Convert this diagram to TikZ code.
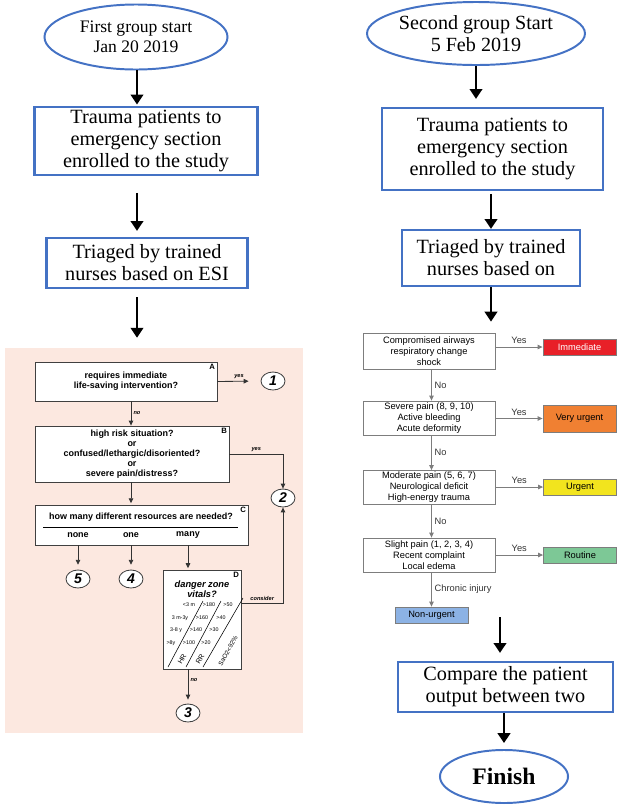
\documentclass[tikz,border=0pt]{standalone}
\usepackage{fontspec}
\setmainfont{Liberation Serif}
\setsansfont{Liberation Sans}
\usetikzlibrary{arrows.meta,shapes.geometric,positioning}
\definecolor{boxblue}{RGB}{68,114,196}
\definecolor{esipink}{RGB}{252,232,224}
\definecolor{immred}{RGB}{232,32,40}
\definecolor{vuorange}{RGB}{240,128,50}
\definecolor{urgyellow}{RGB}{242,228,30}
\definecolor{routgreen}{RGB}{125,200,150}
\definecolor{nonblue}{RGB}{140,178,228}
\definecolor{tabgray}{RGB}{125,125,125}

\begin{document}
\begin{tikzpicture}[x=0.025cm, y=-0.025cm,
  startell/.style={ellipse, draw=boxblue, line width=1.4pt, align=center, inner sep=0pt},
  mainbox/.style={draw=boxblue, line width=1.6pt, align=center, inner sep=0pt,
                  font=\fontsize{14.4}{15.6}\selectfont},
  flow/.style={line width=1.3pt, -{Triangle[length=7pt,width=9pt]}},
  esibox/.style={draw=black!75, fill=white, line width=0.6pt, align=center, inner sep=0pt,
                 font=\sffamily\bfseries\fontsize{6.4}{7}\selectfont},
  esinum/.style={ellipse, draw=black!75, fill=white, line width=0.6pt, minimum width=0.6cm,
                 minimum height=0.45cm, inner sep=0pt,
                 font=\sffamily\bfseries\itshape\fontsize{10}{10}\selectfont},
  esiarrow/.style={draw=black!80, line width=0.6pt, -{Triangle[length=3.5pt,width=3.2pt]}},
  esitag/.style={font=\sffamily\bfseries\itshape\fontsize{4}{4}\selectfont, inner sep=1.5pt},
  corner/.style={anchor=north east, font=\sffamily\bfseries\fontsize{5.5}{5.5}\selectfont, inner sep=1.5pt},
  vital/.style={font=\sffamily\fontsize{3.8}{4}\selectfont, inner sep=0pt},
  tribox/.style={draw=tabgray, fill=white, line width=0.6pt, minimum width=3.3cm,
                 minimum height=0.85cm, align=center, inner sep=0pt,
                 font=\sffamily\fontsize{6.6}{7.8}\selectfont},
  level/.style={draw=tabgray, line width=0.6pt, minimum width=1.825cm, minimum height=0.4cm,
                inner sep=0pt, font=\sffamily\fontsize{6.6}{7}\selectfont},
  triarrow/.style={draw=tabgray, line width=0.6pt, -{Triangle[length=3.5pt,width=3.2pt]}},
  trilabel/.style={font=\sffamily\fontsize{6.6}{7}\selectfont, text=black!80, inner sep=2pt}]

\useasboundingbox (0,0) rectangle (620,811);

% first group
\node[startell, minimum width=4.575cm, minimum height=1.625cm,
      font=\fontsize{12.5}{14}\selectfont] (start1) at (136,37) {First group start\\Jan 20 2019};
\node[mainbox, minimum width=5.575cm, minimum height=1.7cm] (enrol1) at (146,141)
     {Trauma patients to\\emergency section\\enrolled to the study};
\node[mainbox, minimum width=5.025cm, minimum height=1.25cm] (tri1) at (147,263)
     {Triaged by trained\\nurses based on ESI};
\coordinate (lcol) at (137,0);

% ESI algorithm
\node[fill=esipink, minimum width=7.45cm, minimum height=9.625cm, inner sep=0pt] (esi) at (154,540.5) {};
\draw[flow, shorten >=1pt] (start1.south -| lcol) -- (enrol1.north -| lcol);
\draw[flow, shorten <=0.42cm, shorten >=0.15cm] (enrol1.south -| lcol) -- (tri1.north -| lcol);
\draw[flow, shorten <=0.2cm, shorten >=0.25cm] (tri1.south -| lcol) -- (esi.north -| lcol);

\node[esibox, minimum width=4.55cm, minimum height=0.975cm] (qa) at (126,381.5)
     {requires immediate\\life-saving intervention?};
\node[corner] (qatag) at (qa.north east) {A};
\node[esinum] (n1) at (273,381) {1};
\node[esibox, minimum width=4.85cm, minimum height=1.4cm] (qb) at (132,454)
     {high risk situation?\\or\\confused/lethargic/disoriented?\\or\\severe pain/distress?};
\node[corner] (qbtag) at (qb.north east) {B};
\node[esinum] (n2) at (283,498) {2};
\node[esibox, minimum width=5.325cm, minimum height=1cm] (qc) at (141.5,525) {};
\node[corner] (qctag) at (qc.north east) {C};
\node[esibox, draw=none, fill=none] (qcq) at (141,517) {how many different resources are needed?};
\draw[line width=0.5pt] (43,527) -- (238,527);
\node[esibox, draw=none, fill=none] (none) at (78,535) {none};
\node[esibox, draw=none, fill=none] (one) at (131,535) {one};
\node[esibox, draw=none, fill=none] (many) at (188,535) {many};
\node[esinum] (n5) at (78,579) {5};
\node[esinum] (n4) at (131,579) {4};
\node[esibox, minimum width=1.95cm, minimum height=2.475cm] (qd) at (202,619.5) {};
\node[corner] (qdtag) at (qd.north east) {D};
\node[esibox, draw=none, fill=none, font=\sffamily\bfseries\itshape\fontsize{6.6}{7.4}\selectfont]
     (vitals) at (202,589) {danger zone\\vitals?};
\node[esinum] (n3) at (188,713) {3};

% vitals table
\draw[line width=0.4pt] (168,667) -- (203,601);
\draw[line width=0.4pt] (186,667) -- (221,601);
\draw[line width=0.4pt] (203,667) -- (243,598);
\foreach \yy/\age/\hr/\rr/\ax/\hx/\rx [count=\i] in
    {605/{<3 m}/{>180}/{>50}/189/209/228,
     618/{3 m-3y}/{>160}/{>40}/180/202/221,
     630/{3-8 y}/{>140}/{>30}/176/196/214,
     643/{>8y}/{>100}/{>20}/171/189/206}{
  \node[vital] (age\i) at (\ax,\yy) {\age};
  \node[vital] (hr\i) at (\hx,\yy) {\hr};
  \node[vital] (rr\i) at (\rx,\yy) {\rr};
}
\node[rotate=60, font=\sffamily\fontsize{5}{5}\selectfont, inner sep=0pt] (hrlab) at (182,659) {HR};
\node[rotate=60, font=\sffamily\fontsize{5}{5}\selectfont, inner sep=0pt] (rrlab) at (200,659) {RR};
\node[rotate=60, font=\sffamily\fontsize{4.5}{4.5}\selectfont, inner sep=0pt] (salab) at (228,651) {SaO2<92\%};

\coordinate (qcol) at (131,0);
\draw[esiarrow, shorten >=0.3cm] (qa.east) -- node[esitag, above] {yes} (n1.west);
\draw[esiarrow] (qa.south -| qcol) -- node[esitag, right] {no} (qb.north -| qcol);
\draw[esiarrow] (qb.east) -| node[esitag, above, pos=0.25] {yes} (n2.north);
\draw[esiarrow, shorten >=1pt] (qb.south -| qcol) -- (qc.north -| qcol);
\draw[esiarrow, shorten >=0.12cm] (qc.south -| n5) -- (n5.north);
\draw[esiarrow, shorten >=0.12cm] (qc.south -| n4) -- (n4.north);
\draw[esiarrow, shorten >=1pt] (qc.south -| n3) -- (qd.north -| n3);
\draw[esiarrow] ([yshift=0.41cm]qd.east) -| node[esitag, above, pos=0.25] {consider} (n2.south);
\draw[esiarrow, shorten >=0.1cm] (qd.south -| n3) -- node[esitag, right, pos=0.3] {no} (n3.north);

% second group
\node[startell, minimum width=5.075cm, minimum height=1.575cm,
      font=\fontsize{14.3}{15.6}\selectfont] (start2) at (476,33.5) {Second group Start\\5 Feb 2019};
\node[mainbox, minimum width=5.525cm, minimum height=2.05cm] (enrol2) at (492.5,149)
     {Trauma patients to\\emergency section\\enrolled to the study};
\node[mainbox, minimum width=4.45cm, minimum height=1.4cm] (tri2) at (491,258)
     {Triaged by trained\\nurses based on};
\draw[flow, shorten >=0.2cm] (start2.south) -- (start2.south |- enrol2.north);
\draw[flow, shorten <=0.07cm] (enrol2.south -| tri2.north) -- (tri2.north);

% triage table
\node[tribox, minimum height=0.9cm] (c1) at (429,351) {Compromised airways\\respiratory change\\shock};
\node[tribox] (c2) at (429,418) {Severe pain (8, 9, 10)\\Active bleeding\\Acute deformity};
\node[tribox] (c3) at (429,487.5) {Moderate pain (5, 6, 7)\\Neurological deficit\\High-energy trauma};
\node[tribox] (c4) at (429,555) {Slight pain (1, 2, 3, 4)\\Recent complaint\\Local edema};
\node[level, fill=immred, text=white] (imm) at (579.5,347) {Immediate};
\node[level, fill=vuorange, minimum height=0.675cm] (vurg) at (579.5,418.5) {Very urgent};
\node[level, fill=urgyellow] (urg) at (580,487) {Urgent};
\node[level, fill=routgreen] (rout) at (580,555) {Routine};
\node[level, fill=nonblue] (nonurg) at (431.5,615) {Non-urgent};
\draw[flow, shorten >=0.275cm] (tri2.south) -- (tri2.south |- c1.north);

\draw[triarrow] (c1.east |- imm) -- node[trilabel, above] {Yes} (imm.west);
\draw[triarrow] (c2.east |- vurg) -- node[trilabel, above] {Yes} (vurg.west);
\draw[triarrow] (c3.east |- urg) -- node[trilabel, above] {Yes} (urg.west);
\draw[triarrow] (c4.east |- rout) -- node[trilabel, above] {Yes} (rout.west);
\draw[triarrow] (c1.south -| nonurg) -- node[trilabel, right] {No} (c2.north -| nonurg);
\draw[triarrow] (c2.south -| nonurg) -- node[trilabel, right] {No} (c3.north -| nonurg);
\draw[triarrow] (c3.south -| nonurg) -- node[trilabel, right] {No} (c4.north -| nonurg);
\draw[triarrow] (c4.south -| nonurg) -- node[trilabel, right] {Chronic injury} (nonurg.north);

% comparison
\node[mainbox, minimum width=5.375cm, minimum height=1.25cm] (cmp) at (505.5,687)
     {Compare the patient\\output between two};
\node[startell, minimum width=3.2cm, minimum height=1.325cm,
      font=\bfseries\fontsize{16.8}{18}\selectfont] (fin) at (504,776.5) {Finish};
\coordinate (tabout) at (500,617);
\draw[flow, shorten >=0.2cm] (tabout) -- (tabout |- cmp.north);
\draw[flow, shorten >=0.15cm] (cmp.south -| fin.north) -- (fin.north);
\end{tikzpicture}
\end{document}
